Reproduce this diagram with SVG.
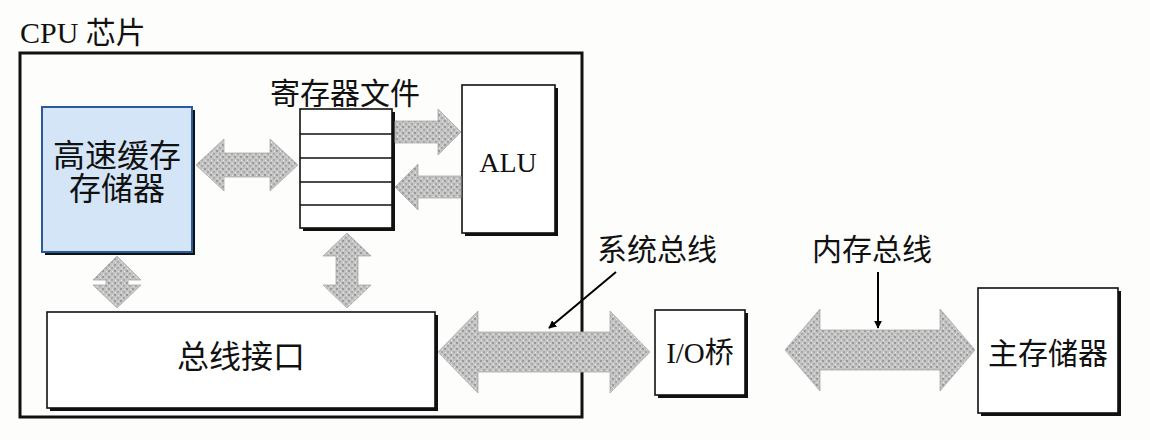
<svg xmlns="http://www.w3.org/2000/svg" width="1150" height="440" viewBox="0 0 1150 440">
<defs>
<pattern id="stip" width="6" height="6" patternUnits="userSpaceOnUse">
<rect width="6" height="6" fill="#c4c4c4"/>
<rect x="0" y="0" width="2" height="2" fill="#9a9a9a"/>
<rect x="3" y="3" width="2" height="2" fill="#a8a8a8"/>
<rect x="4" y="1" width="1" height="1" fill="#e6e6e6"/>
<rect x="1" y="4" width="1" height="1" fill="#ececec"/>
</pattern>
<marker id="ah" viewBox="0 0 10 10" refX="9" refY="5" markerWidth="8" markerHeight="8" orient="auto" markerUnits="userSpaceOnUse">
<path d="M0,0 L10,5 L0,10 Z" fill="#000"/>
</marker>
</defs>
<style>
.box{fill:#fff;stroke:#111;stroke-width:1.6}
.sh{fill:#111}
.bus{fill:url(#stip);stroke:#aaa;stroke-width:0.8}
.t{font-family:"Liberation Serif","Noto Sans CJK SC",serif;fill:#111;font-size:30px}
.ptr{stroke:#000;stroke-width:2;fill:none}
</style>
<rect width="1150" height="440" fill="#fdfdfb"/>
<text class="t" x="20" y="43" style="font-size:30px">CPU 芯片</text>
<g id="cpu">
<rect x="20" y="53" width="562" height="364" fill="none" stroke="#111" stroke-width="3"/>
</g>
<g id="cache">
<rect class="sh" x="45" y="110" width="150" height="145"/>
<rect x="42" y="107" width="150" height="145" fill="#d3e5f6" stroke="#2a5a9a" stroke-width="2"/>
<text class="t" x="117" y="167" text-anchor="middle" style="font-size:32px">高速缓存</text>
<text class="t" x="117" y="200" text-anchor="middle" style="font-size:32px">存储器</text>
</g>
<g id="regfile">
<text class="t" x="345" y="104" text-anchor="middle">寄存器文件</text>
<rect class="sh" x="303" y="112" width="92" height="119"/>
<rect class="box" x="300" y="109" width="92" height="119"/>
<path d="M300 134H392M300 158H392M300 182H392M300 205H392" stroke="#111" stroke-width="1.5"/>
</g>
<g id="alu">
<rect class="sh" x="465" y="88" width="93" height="148"/>
<rect class="box" x="462" y="85" width="93" height="148"/>
<text class="t" x="508" y="172" text-anchor="middle" style="font-size:28px">ALU</text>
</g>
<g id="businterface">
<rect class="sh" x="50" y="315" width="388" height="96"/>
<rect class="box" x="47" y="312" width="388" height="96"/>
<text class="t" x="241" y="368" text-anchor="middle" style="font-size:32px">总线接口</text>
</g>
<g id="iobridge">
<rect class="sh" x="658" y="313" width="90" height="85"/>
<rect class="box" x="655" y="310" width="90" height="85"/>
<text class="t" x="700" y="363" text-anchor="middle" style="font-size:29px">I/O桥</text>
</g>
<g id="mainmem">
<rect class="sh" x="981" y="291" width="140" height="125"/>
<rect class="box" x="978" y="288" width="140" height="125"/>
<text class="t" x="1048" y="364" text-anchor="middle">主存储器</text>
</g>
<g id="connectors">
<path class="bus" d="M196 165L224 139L224 153L270 153L270 139L298 165L270 191L270 177L224 177L224 191Z"/>
<path class="bus" d="M395 121L438 121L438 109L461 132L438 155L438 143L395 143Z"/>
<path class="bus" d="M461 176L418 176L418 164L395 187L418 210L418 198L461 198Z"/>
<path class="bus" d="M117 256L141 280L128 280L128 285L141 285L117 308L93 285L106 285L106 280L93 280Z"/>
<path class="bus" d="M347 233L371 256L358 256L358 285L371 285L347 308L323 285L336 285L336 256L323 256Z"/>
<path class="bus" d="M438 352L478 311L478 332L610 332L610 311L650 352L610 393L610 372L478 372L478 393Z"/>
<path class="bus" d="M785 350L820 309L820 330L940 330L940 309L975 350L940 391L940 370L820 370L820 391Z"/>
<text class="t" x="657" y="260" text-anchor="middle">系统总线</text>
<text class="t" x="872" y="260" text-anchor="middle">内存总线</text>
<line class="ptr" x1="616" y1="272" x2="549" y2="328" marker-end="url(#ah)"/>
<line class="ptr" x1="878" y1="272" x2="878" y2="328" marker-end="url(#ah)"/>
</g>
</svg>
